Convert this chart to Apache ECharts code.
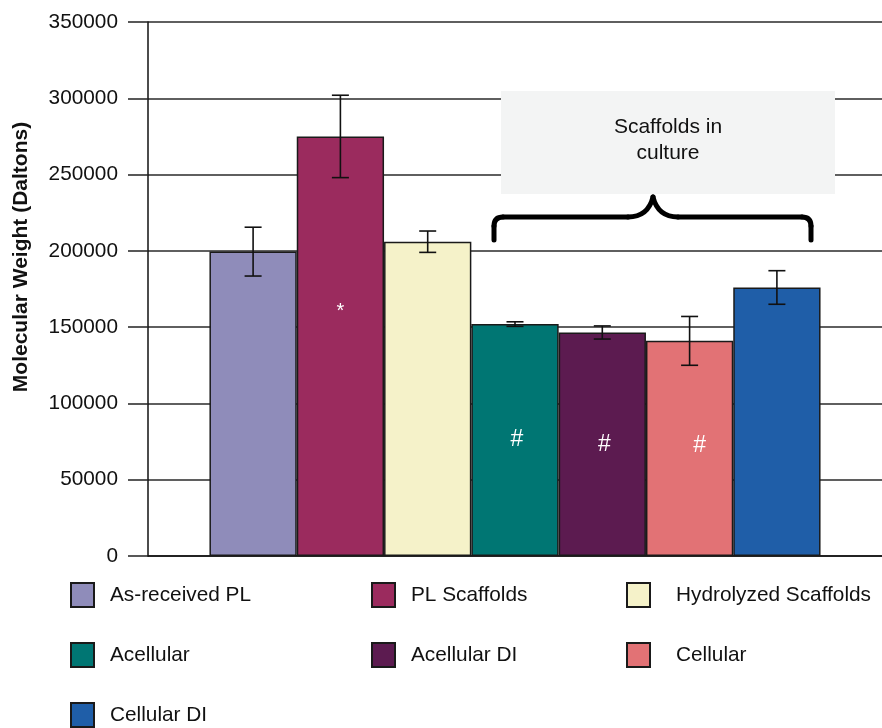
<!DOCTYPE html>
<html>
<head>
<meta charset="utf-8">
<script src="https://cdn.jsdelivr.net/npm/echarts@6/dist/echarts.min.js"></script>
<style>
  html, body { margin: 0; padding: 0; background: #ffffff; }
  #chart { width: 882px; height: 728px; }
</style>
</head>
<body>
<div id="chart"></div>
<script>
// Molecular weight of polylactide samples (Daltons), mean and standard deviation
const groups = ['As-received PL', 'PL Scaffolds', 'Hydrolyzed Scaffolds', 'Acellular', 'Acellular DI', 'Cellular', 'Cellular DI'];
const meanMW = [199500, 275000, 206000, 152000, 146500, 141000, 176000];
const errMW = [16000, 27000, 7000, 1500, 4300, 16000, 11000];
const marks = ['', '*', '', '#', '#', '#', ''];
const colors = ['#8f8cba', '#9b2b5e', '#f5f2c9', '#007673', '#5c1b50', '#e27275', '#1f5ea8'];
const yTicks = { min: 0, max: 350000, interval: 50000 };
const bracketNote = 'Scaffolds in\nculture';

const FONT = '"Liberation Sans", Arial, Helvetica, sans-serif';
const FS = 20.8;
const BAR_W = 87.3;
const CAP_W = 17;

const chart = echarts.init(document.getElementById('chart'), null, { renderer: 'canvas' });

const barSeries = groups.map((name, i) => ({
  name: name,
  type: 'bar',
  barWidth: BAR_W,
  barGap: '0%',
  itemStyle: { color: colors[i], borderColor: '#1a1a1a', borderWidth: 1.5 },
  label: {
    show: marks[i] !== '',
    position: 'inside',
    formatter: () => marks[i],
    color: '#ffffff',
    fontFamily: FONT,
    fontSize: marks[i] === '*' ? 20 : 23,
    offset: marks[i] === '*' ? [0, -35] : (i === 5 ? [10, -3] : [2, 0])
  },
  emphasis: { disabled: true },
  z: 2,
  data: [meanMW[i]]
}));

const errorSeries = {
  type: 'custom',
  name: 'sd',
  z: 5,
  silent: true,
  data: groups.map((g, i) => [0, meanMW[i], errMW[i], i]),
  renderItem: function (params, api) {
    const idx = api.value(3);
    const mean = api.value(1);
    const err = api.value(2);
    const base = api.coord([0, mean]);
    const cx = base[0] + (idx - (groups.length - 1) / 2) * BAR_W;
    const yHi = api.coord([0, mean + err])[1];
    const yLo = api.coord([0, mean - err])[1];
    const st = { stroke: '#111111', lineWidth: 1.6 };
    return {
      type: 'group',
      children: [
        { type: 'line', shape: { x1: cx, y1: yHi, x2: cx, y2: yLo }, style: st },
        { type: 'line', shape: { x1: cx - CAP_W / 2, y1: yHi, x2: cx + CAP_W / 2, y2: yHi }, style: st },
        { type: 'line', shape: { x1: cx - CAP_W / 2, y1: yLo, x2: cx + CAP_W / 2, y2: yLo }, style: st }
      ]
    };
  }
};

// one legend block per column (and per row band), laid out as a 3-column key
function legendBlock(names, left, top, textPad) {
  return {
    orient: 'vertical',
    left: left,
    top: top,
    padding: 0,
    itemWidth: 23,
    itemHeight: 24,
    itemGap: 34,
    icon: 'rect',
    selectedMode: false,
    data: names,
    textStyle: { fontFamily: FONT, fontSize: FS, color: '#111111', padding: [0, 0, 0, textPad] }
  };
}

// curly brace over the in-culture groups
const braceStyle = { stroke: '#000000', lineWidth: 5, fill: null, lineCap: 'round' };
const bracePieces = [
  { type: 'line', shape: { x1: 494, y1: 240, x2: 494, y2: 226 } },
  { type: 'bezierCurve', shape: { x1: 494, y1: 226, cpx1: 494, cpy1: 217, x2: 503, y2: 217 } },
  { type: 'line', shape: { x1: 503, y1: 217, x2: 628, y2: 217 } },
  { type: 'bezierCurve', shape: { x1: 628, y1: 217, cpx1: 648, cpy1: 217, x2: 653, y2: 197 } },
  { type: 'bezierCurve', shape: { x1: 653, y1: 197, cpx1: 658, cpy1: 217, x2: 678, y2: 217 } },
  { type: 'line', shape: { x1: 678, y1: 217, x2: 802, y2: 217 } },
  { type: 'bezierCurve', shape: { x1: 802, y1: 217, cpx1: 811, cpy1: 217, x2: 811, y2: 226 } },
  { type: 'line', shape: { x1: 811, y1: 226, x2: 811, y2: 240 } }
].map(p => Object.assign(p, { z: 52, style: braceStyle }));

const option = {
  animation: false,
  backgroundColor: '#ffffff',
  grid: { left: 148, right: -3, top: 22, bottom: 172, containLabel: false },
  legend: [
    legendBlock([groups[0], groups[3]], 70, 582, 11),
    legendBlock([groups[6]], 70, 702, 11),
    legendBlock([groups[1], groups[4]], 371, 582, 11),
    legendBlock([groups[2], groups[5]], 626, 582, 21)
  ],
  xAxis: {
    type: 'category',
    data: ['MW'],
    axisLabel: { show: false },
    axisTick: { show: false },
    axisLine: { show: true, lineStyle: { color: '#111111', width: 1.5 } },
    splitLine: { show: false }
  },
  yAxis: {
    type: 'value',
    min: yTicks.min,
    max: yTicks.max,
    interval: yTicks.interval,
    name: 'Molecular Weight (Daltons)',
    nameLocation: 'middle',
    nameGap: 116,
    nameTextStyle: { fontFamily: FONT, fontSize: 21, fontWeight: 'bold', color: '#111111', padding: [0, 0, 0, 64] },
    axisLine: { show: true, lineStyle: { color: '#111111', width: 1.5 } },
    axisTick: { show: true, inside: false, length: 20, lineStyle: { color: '#222222', width: 1.5 } },
    axisLabel: { fontFamily: FONT, fontSize: FS, color: '#111111', margin: 30, formatter: v => String(v) },
    splitLine: { show: true, lineStyle: { color: '#2a2a2a', width: 1.5 } }
  },
  series: barSeries.concat([errorSeries]),
  graphic: [
    {
      type: 'rect',
      z: 50,
      shape: { x: 501, y: 91, width: 334, height: 103 },
      style: { fill: '#f3f4f4' }
    },
    {
      type: 'text',
      z: 51,
      x: 668,
      y: 140,
      style: {
        text: bracketNote,
        fontFamily: FONT,
        fontSize: 21,
        lineHeight: 26,
        fill: '#111111',
        align: 'center',
        verticalAlign: 'middle'
      }
    }
  ].concat(bracePieces)
};

chart.setOption(option);
</script>
</body>
</html>
